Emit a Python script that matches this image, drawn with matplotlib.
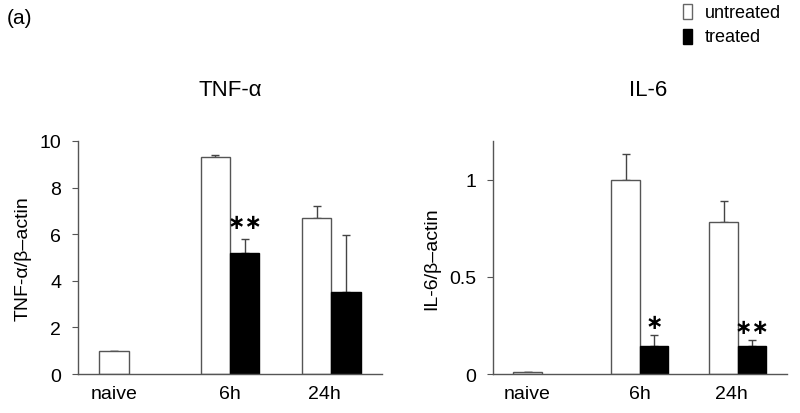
import numpy as np
import matplotlib.pyplot as plt

plt.rcParams['font.family'] = ['Liberation Sans', 'DejaVu Sans']

groups = ['naive', '6h', '24h']

# TNF-alpha / beta-actin
tnf_untreated = [1.0, 9.3, 6.7]
tnf_untreated_err = [0.0, 0.1, 0.5]
tnf_treated = [np.nan, 5.18, 3.52]
tnf_treated_err = [0.0, 0.6, 2.43]
tnf_stars = ['', '**', '']

# IL-6 / beta-actin
il6_untreated = [0.01, 1.0, 0.78]
il6_untreated_err = [0.0, 0.134, 0.11]
il6_treated = [np.nan, 0.146, 0.145]
il6_treated_err = [0.0, 0.054, 0.03]
il6_stars = ['', '*', '**']

fig = plt.figure(figsize=(8, 4.14), dpi=100)
w = 0.29
x = np.arange(len(groups))


def panel(rect, unt, unt_err, trt, trt_err, stars, ylim, yticks, yticklabels, ylabel, title, star_off):
    ax = fig.add_axes(rect)
    ax.bar(x - w / 2, unt, w, color='white', edgecolor='#555555', linewidth=1.0, zorder=2)
    ax.bar(x + w / 2, trt, w, color='black', edgecolor='black', linewidth=1.0, zorder=2)
    ax.errorbar(x - w / 2, unt, yerr=[np.zeros(len(x)), unt_err], fmt='none',
                ecolor='#444444', elinewidth=1.0, capsize=3, zorder=1)
    ax.errorbar(x + w / 2, trt, yerr=[np.zeros(len(x)), trt_err], fmt='none',
                ecolor='#444444', elinewidth=1.0, capsize=3, zorder=1)
    for i, s in enumerate(stars):
        if s:
            ax.text(x[i] + w / 2, trt[i] + trt_err[i] + star_off, s.replace('*', '\u2217'),
                    ha='center', va='bottom', fontsize=15, fontweight='bold')
    ax.set_xlim(-0.5, 2.5)
    ax.set_ylim(*ylim)
    ax.set_yticks(yticks)
    ax.set_yticklabels(yticklabels, fontsize=14)
    ax.set_xticks([x[0] - w / 2, x[1], x[2] - 0.07])
    ax.set_xticklabels(groups, fontsize=14)
    ax.tick_params(axis='x', length=0, pad=8)
    ax.tick_params(axis='y', length=4, width=0.8, color='#555555', pad=8)
    for sp in ['top', 'right']:
        ax.spines[sp].set_visible(False)
    for sp in ['left', 'bottom']:
        ax.spines[sp].set_color('#555555')
        ax.spines[sp].set_linewidth(1.0)
    ax.set_ylabel(ylabel, fontsize=14, labelpad=6)
    fig.text(rect[0] + rect[2] / 2 + (0.01 if title == 'IL-6' else 0), 1 - 90 / 414, title,
             ha='center', va='center', fontsize=16)
    return ax


panel([0.0975, 0.0942, 0.38, 0.563], tnf_untreated, tnf_untreated_err, tnf_treated,
      tnf_treated_err, tnf_stars, (0, 10), [0, 2, 4, 6, 8, 10],
      ['0', '2', '4', '6', '8', '10'], 'TNF-\u03b1/\u03b2\u2013actin', 'TNF-\u03b1', 0.3)
panel([0.616, 0.0942, 0.3675, 0.563], il6_untreated, il6_untreated_err, il6_treated,
      il6_treated_err, il6_stars, (0, 1.2), [0, 0.5, 1],
      ['0', '0.5', '1'], 'IL-6/\u03b2\u2013actin', 'IL-6', 0.015)

fig.text(0.008, 1 - 18 / 414, '(a)', ha='left', va='center', fontsize=15)

# legend
fig.patches.append(plt.Rectangle((683 / 800, 1 - 20 / 414), 9 / 800, 15 / 414,
                                 transform=fig.transFigure, facecolor='white',
                                 edgecolor='#666666', linewidth=1))
fig.patches.append(plt.Rectangle((683 / 800, 1 - 45 / 414), 9 / 800, 15 / 414,
                                 transform=fig.transFigure, facecolor='black',
                                 edgecolor='black', linewidth=1))
fig.text(705 / 800, 1 - 13 / 414, 'untreated', ha='left', va='center', fontsize=13)
fig.text(705 / 800, 1 - 38 / 414, 'treated', ha='left', va='center', fontsize=13)

fig.savefig('out.png', dpi=100)
